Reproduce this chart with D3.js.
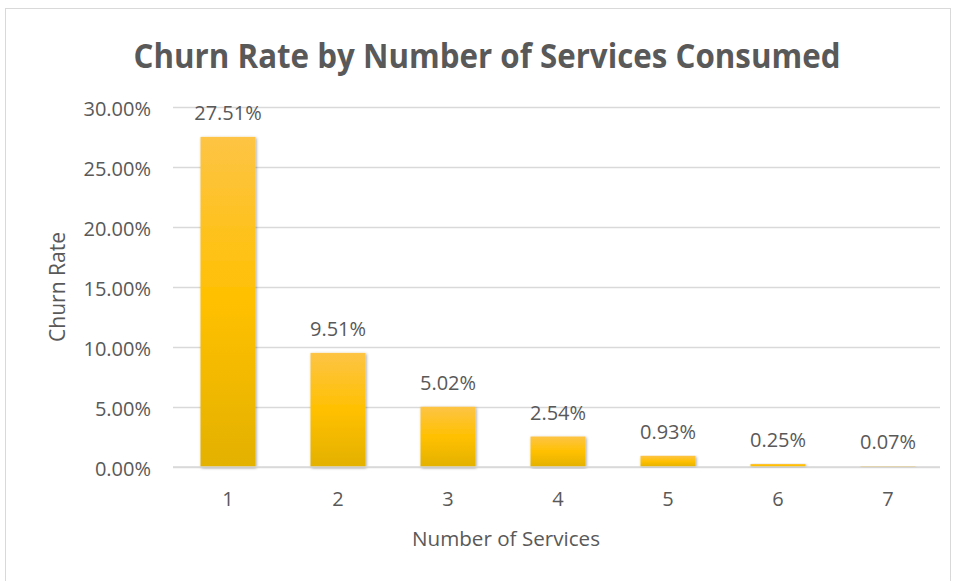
<!DOCTYPE html>
<html>
<head>
<meta charset="utf-8">
<script src="https://cdn.jsdelivr.net/npm/d3@7"></script>
<style>
  html, body { margin: 0; padding: 0; background: #fff; }
  svg { display: block; }
  text { font-family: "Open Sans", "Noto Sans", sans-serif; fill: #595959; }
</style>
</head>
<body>
<svg id="chart" width="958" height="581"></svg>
<script>
// Churn rate (%) by number of services a customer consumes
const services = ["1", "2", "3", "4", "5", "6", "7"];
const churnRate = [27.51, 9.51, 5.02, 2.54, 0.93, 0.25, 0.07];
const yTicks = [0, 5, 10, 15, 20, 25, 30];

const svg = d3.select("#chart");
const W = 958, H = 581;
const margin = { left: 173, right: 15, top: 107, bottom: 114 };

// outer chart frame
svg.append("rect")
  .attr("x", 5.5).attr("y", 8.5)
  .attr("width", 945).attr("height", 590)
  .attr("fill", "#fff").attr("stroke", "#d9d9d9");

const x = d3.scaleBand()
  .domain(services)
  .range([margin.left, W - margin.right])
  .paddingInner(0.5).paddingOuter(0.25);

const y = d3.scaleLinear()
  .domain([0, 30])
  .range([H - margin.bottom, margin.top]);

const defs = svg.append("defs");
const grad = defs.append("linearGradient")
  .attr("id", "barFill").attr("x1", 0).attr("y1", 0).attr("x2", 0).attr("y2", 1);
grad.append("stop").attr("offset", "0%").attr("stop-color", "#FDC445");
grad.append("stop").attr("offset", "50%").attr("stop-color", "#FFC000");
grad.append("stop").attr("offset", "100%").attr("stop-color", "#E3B100");

const shadow = defs.append("filter").attr("id", "barShadow")
  .attr("x", "-20%").attr("y", "-5%").attr("width", "140%").attr("height", "110%");
shadow.append("feDropShadow")
  .attr("dx", 1).attr("dy", 1).attr("stdDeviation", 1.5)
  .attr("flood-color", "#000").attr("flood-opacity", 0.35);

// horizontal gridlines with tick labels
const yAxis = d3.axisLeft(y)
  .tickValues(yTicks)
  .tickSize(-(W - margin.left - margin.right - 3))
  .tickPadding(22)
  .tickFormat(d => d.toFixed(2) + "%");

const gy = svg.append("g")
  .attr("transform", `translate(${margin.left},0)`)
  .call(yAxis);
gy.select(".domain").remove();
gy.selectAll(".tick line").attr("stroke", "#d9d9d9").attr("stroke-width", 1.3);
gy.selectAll(".tick text")
  .attr("font-size", 20).attr("fill", "#595959").attr("dy", "0.4em")
  .style("font-family", "'Open Sans', sans-serif");

// bars
const data = services.map((s, i) => ({ s, v: churnRate[i] }));
svg.append("g").selectAll("rect")
  .data(data).join("rect")
  .attr("x", d => x(d.s))
  .attr("y", d => y(d.v))
  .attr("width", x.bandwidth())
  .attr("height", d => y(0) - y(d.v))
  .attr("fill", "url(#barFill)")
  .attr("filter", "url(#barShadow)");

// value labels
svg.append("g").selectAll("text")
  .data(data).join("text")
  .attr("x", d => x(d.s) + x.bandwidth() / 2)
  .attr("y", d => y(d.v) - 17)
  .attr("text-anchor", "middle")
  .attr("font-size", 20)
  .attr("fill", "#404040")
  .text(d => d.v.toFixed(2) + "%");

// category axis labels
const xAxis = d3.axisBottom(x).tickSize(0).tickPadding(25);
const gx = svg.append("g")
  .attr("transform", `translate(0,${y(0)})`)
  .call(xAxis);
gx.select(".domain").attr("stroke", "#d9d9d9").attr("stroke-width", 1.3)
  .attr("d", `M${margin.left},0H${W - margin.right - 3}`);
gx.selectAll(".tick text")
  .attr("font-size", 20).attr("fill", "#595959")
  .style("font-family", "'Open Sans', sans-serif");

// titles
svg.append("text")
  .attr("x", 487).attr("y", 68)
  .attr("text-anchor", "middle")
  .attr("font-size", 34).attr("font-weight", "bold")
  .attr("textLength", 707).attr("lengthAdjust", "spacingAndGlyphs")
  .attr("fill", "#595959")
  .text("Churn Rate by Number of Services Consumed");

svg.append("text")
  .attr("x", 506).attr("y", 546)
  .attr("text-anchor", "middle")
  .attr("font-size", 20).attr("fill", "#595959")
  .attr("textLength", 188).attr("lengthAdjust", "spacingAndGlyphs")
  .text("Number of Services");

svg.append("text")
  .attr("transform", "translate(65,287) rotate(-90)")
  .attr("text-anchor", "middle")
  .attr("font-size", 21).attr("fill", "#595959")
  .attr("textLength", 110).attr("lengthAdjust", "spacingAndGlyphs")
  .text("Churn Rate");
</script>
</body>
</html>
